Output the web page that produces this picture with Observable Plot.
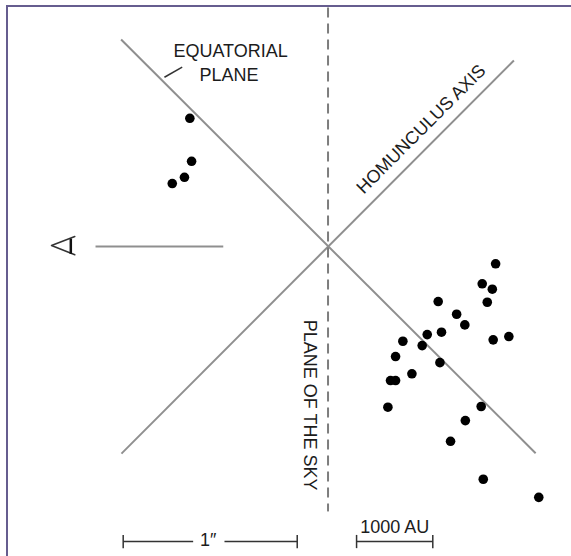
<!DOCTYPE html>
<html><head><meta charset="utf-8">
<script src="https://cdn.jsdelivr.net/npm/d3@7"></script>
<script src="https://cdn.jsdelivr.net/npm/@observablehq/plot@0.6"></script>
<style>
html,body{margin:0;padding:0;background:#fff;}
#wrap{position:relative;width:571px;height:556px;overflow:hidden;}
#frame{position:absolute;left:6px;top:5px;right:-4px;bottom:-4px;border-top:2px solid #665d8f;border-left:2px solid #665d8f;pointer-events:none;}
</style></head><body>
<div id="wrap"><div id="chart"></div><div id="frame"></div></div>
<script>
// Coordinates in arcseconds relative to the star (x right, y up)
const upperKnotsX = [-0.794, -0.784, -0.825, -0.895];
const upperKnotsY = [0.734, 0.487, 0.395, 0.359];
const lowerKnotsX = [0.963, 0.886, 0.944, 0.915, 0.633, 0.739, 0.786, 0.652, 0.570, 0.430, 0.541, 0.949, 1.039, 0.388, 0.643, 0.482, 0.359, 0.388, 0.344, 0.880, 0.789, 0.704, 0.892, 1.211];
const lowerKnotsY = [-0.102, -0.217, -0.248, -0.323, -0.319, -0.392, -0.453, -0.495, -0.509, -0.547, -0.572, -0.539, -0.520, -0.635, -0.670, -0.734, -0.773, -0.773, -0.926, -0.922, -1.003, -1.122, -1.340, -1.444];

const equatorX = [-1.189, 1.193];
const equatorY = [1.187, -1.191];
const axisX = [-1.187, 1.068];
const axisY = [-1.193, 1.066];
const skyPlaneX = [0, 0];
const skyPlaneY = [1.371, -1.525];
const sightX = [-1.336, -0.602];
const sightY = [-0.003, -0.003];
const leaderX = [-0.940, -0.838];
const leaderY = [0.970, 1.028];
const eyeX = [-1.455, -1.589, -1.455];
const eyeY = [0.055, 0.003, -0.050];
const pupilX = [-1.478, -1.478];
const pupilY = [0.043, -0.045];

const arcsecBarX = [-1.177, -0.177];
const auBarX = [0.164, 0.602];
const barY = -1.698;
const barLabels = ["1″", "1000 AU"];
const barLabelX = [-0.689, 0.383];
const barLabelY = [-1.688, -1.617];

const labelText = ["EQUATORIAL", "PLANE", "HOMUNCULUS AXIS", "PLANE OF THE SKY"];
const labelX = [-0.560, -0.569, 0.535, -0.107];
const labelY = [1.121, 0.980, 0.672, -0.914];
const labelRotate = [0, 0, -45, 90];

const pts = (xs, ys) => xs.map((x, i) => ({x, y: ys[i]}));
const seg = (xs, ys) => [{x1: xs[0], y1: ys[0], x2: xs[1], y2: ys[1]}];

const knots = pts(upperKnotsX, upperKnotsY).concat(pts(lowerKnotsX, lowerKnotsY));
const labels = labelText.map((t, i) => ({t, x: labelX[i], y: labelY[i], r: labelRotate[i]}));
const bars = [arcsecBarX, auBarX];
const barSegs = [
  {x1: arcsecBarX[0], x2: -0.775}, {x1: -0.595, x2: arcsecBarX[1]},
  {x1: auBarX[0], x2: auBarX[1]}
];
const caps = bars.flat().map(x => ({x1: x, x2: x, y1: barY + 0.038, y2: barY - 0.038}));
const barText = barLabels.map((t, i) => ({t, x: barLabelX[i], y: barLabelY[i]}));

const font = "Liberation Sans, Arial, Helvetica, sans-serif";
const chart = Plot.plot({
  width: 571, height: 556,
  marginTop: 0, marginRight: 0, marginBottom: 0, marginLeft: 0,
  x: {domain: [-1.882, 1.399], axis: null},
  y: {domain: [-1.784, 1.411], axis: null},
  style: {background: "#fff", fontFamily: font},
  marks: [
    Plot.link(seg(equatorX, equatorY), {x1: "x1", y1: "y1", x2: "x2", y2: "y2", stroke: "#8f8f8f", strokeWidth: 2}),
    Plot.link(seg(axisX, axisY), {x1: "x1", y1: "y1", x2: "x2", y2: "y2", stroke: "#8f8f8f", strokeWidth: 2}),
    Plot.link(seg(skyPlaneX, skyPlaneY), {x1: "x1", y1: "y1", x2: "x2", y2: "y2", stroke: "#7d7d7d", strokeWidth: 2, strokeDasharray: "10,6"}),
    Plot.link(seg(sightX, sightY), {x1: "x1", y1: "y1", x2: "x2", y2: "y2", stroke: "#8f8f8f", strokeWidth: 2}),
    Plot.link(seg(leaderX, leaderY), {x1: "x1", y1: "y1", x2: "x2", y2: "y2", stroke: "#333", strokeWidth: 1.5}),
    Plot.line(pts(eyeX, eyeY), {x: "x", y: "y", stroke: "#333", strokeWidth: 1.5, curve: "linear"}),
    Plot.link(seg(pupilX, pupilY), {x1: "x1", y1: "y1", x2: "x2", y2: "y2", stroke: "#111", strokeWidth: 2.5}),
    Plot.link(barSegs, {x1: "x1", x2: "x2", y1: barY, y2: barY, stroke: "#333", strokeWidth: 1.5}),
    Plot.link(caps, {x1: "x1", y1: "y1", x2: "x2", y2: "y2", stroke: "#333", strokeWidth: 1.5}),
    Plot.dot(knots, {x: "x", y: "y", r: 4.8, fill: "#000", stroke: "none"}),
    Plot.text(labels, {x: "x", y: "y", text: "t", rotate: "r", fontSize: 18, fill: "#1c1c1c", fontFamily: font}),
    Plot.text(barText, {x: "x", y: "y", text: "t", fontSize: 18, fill: "#1c1c1c", fontFamily: font})
  ]
});
document.getElementById("chart").appendChild(chart);
</script>
</body></html>
